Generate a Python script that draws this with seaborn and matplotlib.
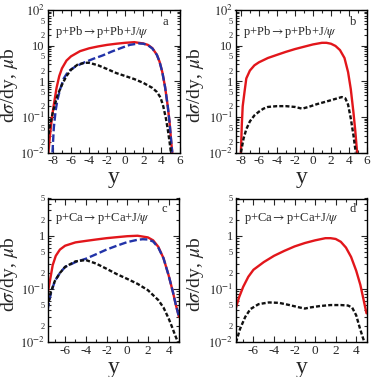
import matplotlib
matplotlib.use("Agg")
import matplotlib.pyplot as plt
import matplotlib.ticker as mticker
import seaborn as sns
import pandas as pd
import numpy as np

# panel a: p+Pb, three contributions
a_red_x = [-8.5, -8.3, -8.1, -7.9, -7.6, -7.3, -7.0, -6.5, -6.0, -5.0, -4.0, -3.0, -2.0, -1.0, 0.0, 1.0, 2.0, 2.5, 3.0, 3.5, 3.8, 4.1, 4.4, 4.7, 4.9, 5.1, 5.2]
a_red_y = [0.01, 0.035, 0.1, 0.22, 0.65, 1.4, 2.3, 3.8, 5.0, 7.0, 8.4, 9.5, 10.5, 11.3, 12.0, 12.5, 11.5, 10.5, 8.5, 5.5, 3.5, 1.8, 0.7, 0.2, 0.07, 0.018, 0.01]
a_blue_x = [-8.05, -7.9, -7.7, -7.5, -7.2, -6.8, -6.3, -5.5, -4.5, -3.5, -2.5, -1.5, -0.5, 0.5, 1.5, 2.0, 2.5, 3.0, 3.5, 3.8, 4.1, 4.4, 4.7, 4.9, 5.1, 5.2]
a_blue_y = [0.01, 0.05, 0.15, 0.3, 0.6, 1.2, 1.9, 2.6, 3.4, 4.3, 5.3, 6.8, 8.5, 10.5, 11.5, 11.3, 10.3, 8.3, 5.5, 3.5, 1.8, 0.7, 0.2, 0.07, 0.018, 0.01]
a_blk_x = [-8.6, -8.3, -8.0, -7.5, -7.0, -6.5, -6.0, -5.3, -4.5, -4.0, -3.0, -2.0, -1.0, 0.0, 1.0, 2.0, 3.0, 3.5, 3.9, 4.2, 4.5, 4.7, 4.9, 5.05]
a_blk_y = [0.022, 0.06, 0.14, 0.4, 0.8, 1.4, 2.1, 2.9, 3.3, 3.3, 2.8, 2.2, 1.7, 1.4, 1.15, 0.9, 0.65, 0.5, 0.35, 0.2, 0.09, 0.045, 0.02, 0.01]

# panel b: p+Pb, two contributions
b_red_x = [-8.0, -7.9, -7.8, -7.6, -7.4, -7.0, -6.5, -6.0, -5.0, -4.0, -3.0, -2.0, -1.0, 0.0, 1.0, 1.5, 2.0, 2.5, 3.0, 3.5, 3.9, 4.2, 4.5, 4.7, 4.9]
b_red_y = [0.01, 0.06, 0.2, 0.5, 1.2, 2.0, 2.8, 3.4, 4.5, 5.5, 6.7, 8.0, 9.3, 10.8, 12.0, 12.0, 11.3, 9.8, 7.5, 4.5, 1.8, 0.6, 0.13, 0.04, 0.01]
b_blk_x = [-8.0, -7.7, -7.4, -7.0, -6.5, -6.0, -5.5, -5.0, -4.0, -3.0, -2.0, -1.2, -0.5, 0.5, 1.5, 2.5, 3.2, 3.6, 3.9, 4.2, 4.5, 4.75]
b_blk_y = [0.01, 0.025, 0.045, 0.075, 0.11, 0.14, 0.17, 0.19, 0.2, 0.2, 0.19, 0.17, 0.19, 0.23, 0.27, 0.32, 0.36, 0.33, 0.22, 0.09, 0.03, 0.01]

# panel c: p+Ca, three contributions
c_red_x = [-7.7, -7.5, -7.2, -6.9, -6.5, -6.0, -5.0, -4.0, -3.0, -2.0, -1.0, 0.0, 1.0, 2.0, 2.5, 3.0, 3.5, 4.0, 4.4, 4.7, 5.0]
c_red_y = [0.08, 0.13, 0.28, 0.42, 0.55, 0.65, 0.75, 0.8, 0.85, 0.9, 0.94, 0.98, 1.0, 0.93, 0.82, 0.62, 0.38, 0.18, 0.09, 0.05, 0.03]
c_blue_x = [-7.7, -7.4, -7.0, -6.5, -6.0, -5.0, -4.0, -3.0, -2.0, -1.0, 0.0, 1.0, 1.5, 2.0, 2.5, 3.0, 3.5, 4.0, 4.4, 4.7, 5.0]
c_blue_y = [0.04, 0.08, 0.14, 0.2, 0.26, 0.32, 0.37, 0.45, 0.55, 0.65, 0.76, 0.84, 0.86, 0.85, 0.78, 0.6, 0.38, 0.18, 0.09, 0.05, 0.03]
c_blk_x = [-7.7, -7.4, -7.0, -6.5, -6.0, -5.0, -4.0, -3.0, -2.0, -1.0, 0.0, 1.0, 2.0, 3.0, 3.5, 4.0, 4.3, 4.6, 4.9]
c_blk_y = [0.045, 0.085, 0.14, 0.2, 0.26, 0.33, 0.35, 0.3, 0.24, 0.19, 0.155, 0.125, 0.095, 0.062, 0.045, 0.028, 0.02, 0.014, 0.01]

# panel d: p+Ca, two contributions
d_red_x = [-7.7, -7.4, -7.0, -6.5, -6.0, -5.0, -4.0, -3.0, -2.0, -1.0, 0.0, 1.0, 1.5, 2.0, 2.5, 3.0, 3.5, 4.0, 4.4, 4.7, 5.0]
d_red_y = [0.045, 0.07, 0.11, 0.17, 0.23, 0.32, 0.42, 0.52, 0.63, 0.73, 0.82, 0.9, 0.9, 0.87, 0.77, 0.6, 0.4, 0.22, 0.12, 0.065, 0.035]
d_blk_x = [-7.7, -7.3, -6.8, -6.3, -5.5, -4.5, -3.5, -2.5, -1.5, -1.0, -0.5, 0.5, 1.5, 2.5, 3.2, 3.6, 4.0, 4.3, 4.6, 4.8]
d_blk_y = [0.01, 0.018, 0.03, 0.042, 0.052, 0.056, 0.055, 0.05, 0.045, 0.043, 0.045, 0.048, 0.05, 0.05, 0.049, 0.045, 0.032, 0.02, 0.013, 0.01]

titles = ["p+Pb$\\rightarrow$p+Pb+J/$\\psi$", "p+Ca$\\rightarrow$p+Ca+J/$\\psi$"]
letters = ["a", "b", "c", "d"]

sns.set_style("ticks")
plt.rcParams["font.family"] = ["Liberation Serif", "DejaVu Serif"]
plt.rcParams["mathtext.fontset"] = "stix"
plt.rcParams["axes.unicode_minus"] = False

RED = "#e2161b"
BLUE = "#2233a8"
BLACK = "#111111"
DASH_BLUE = (0, (3.2, 1.3))
DASH_BLK = (0, (1.7, 0.9))

fig = plt.figure(figsize=(3.72, 3.77), dpi=100)
W, H = 372.0, 377.0
boxes = [(47.5, 10, 179.5, 152.5), (235.5, 10, 367, 152.5),
         (47.5, 198.5, 179, 342.3), (236, 198.5, 366.5, 342.3)]
# right edge (in pixels) of each rotated y label
label_x = [20.5, 206.5, 20.5, 206.5]
axes = []
for (l, t, r, b) in boxes:
    axes.append(fig.add_axes([l / W, 1 - b / H, (r - l) / W, (b - t) / H]))

curves = [
    [(a_red_x, a_red_y, RED, "-"), (a_blue_x, a_blue_y, BLUE, DASH_BLUE), (a_blk_x, a_blk_y, BLACK, DASH_BLK)],
    [(b_red_x, b_red_y, RED, "-"), (b_blk_x, b_blk_y, BLACK, DASH_BLK)],
    [(c_red_x, c_red_y, RED, "-"), (c_blue_x, c_blue_y, BLUE, DASH_BLUE), (c_blk_x, c_blk_y, BLACK, DASH_BLK)],
    [(d_red_x, d_red_y, RED, "-"), (d_blk_x, d_blk_y, BLACK, DASH_BLK)],
]


def major_fmt(v, pos):
    if abs(v - 1) < 1e-9:
        return "1"
    if abs(v - 10) < 1e-6:
        return "10"
    e = int(round(np.log10(v)))
    return "$10^{%d}$" % e


def minor_fmt(v, pos):
    m = v / 10 ** np.floor(np.log10(v) + 1e-9)
    if abs(m - 2) < 1e-6:
        return "2"
    if abs(m - 5) < 1e-6:
        return "5"
    return ""


for i, ax in enumerate(axes):
    for (xs, ys, col, ls) in curves[i]:
        df = pd.DataFrame({"y": xs, "v": ys})
        sns.lineplot(data=df, x="y", y="v", ax=ax, color=col, linestyle=ls,
                     linewidth=1.7, sort=False, estimator=None)
    ax.set_yscale("log")
    if i < 2:
        ax.set_xlim(-8.6, 6.0)
        ax.set_ylim(1e-2, 1e2)
        ax.set_xticks([-8, -6, -4, -2, 0, 2, 4, 6])
    else:
        ax.set_xlim(-7.7, 5.0)
        ax.set_ylim(1e-2, 5)
        ax.set_xticks([-6, -4, -2, 0, 2, 4])
    ax.xaxis.set_minor_locator(mticker.MultipleLocator(1))
    ax.yaxis.set_major_locator(mticker.LogLocator(base=10, numticks=10))
    ax.yaxis.set_minor_locator(mticker.LogLocator(base=10, subs=np.arange(2, 10), numticks=20))
    ax.yaxis.set_major_formatter(mticker.FuncFormatter(major_fmt))
    ax.yaxis.set_minor_formatter(mticker.FuncFormatter(minor_fmt))
    ax.tick_params(which="both", direction="in", top=True, right=True, width=0.8)
    ax.tick_params(which="major", length=4.5, labelsize=9.5, pad=2)
    ax.tick_params(axis="y", which="major", labelsize=9)
    ax.tick_params(axis="y", which="minor", length=2.5, labelsize=6, pad=2)
    ax.tick_params(axis="x", which="minor", length=2.5)
    for s in ax.spines.values():
        s.set_linewidth(1.0)
        s.set_color("black")
    ax.set_xlabel("y", fontsize=17, labelpad=0)
    ax.set_ylabel("d$\\sigma$/dy, $\\mu$b", fontsize=14)
    l, t, r, b = boxes[i]
    ax.yaxis.set_label_coords((label_x[i] - l) / (r - l), 0.47)
    ax.text(0.06, 0.845 if i < 2 else 0.86, titles[i // 2], transform=ax.transAxes,
            fontsize=9, va="center", ha="left")
    ax.text(0.87, 0.915 if i < 2 else 0.93, letters[i], transform=ax.transAxes,
            fontsize=9, va="center", ha="left")

fig.savefig("out.png", dpi=100)
